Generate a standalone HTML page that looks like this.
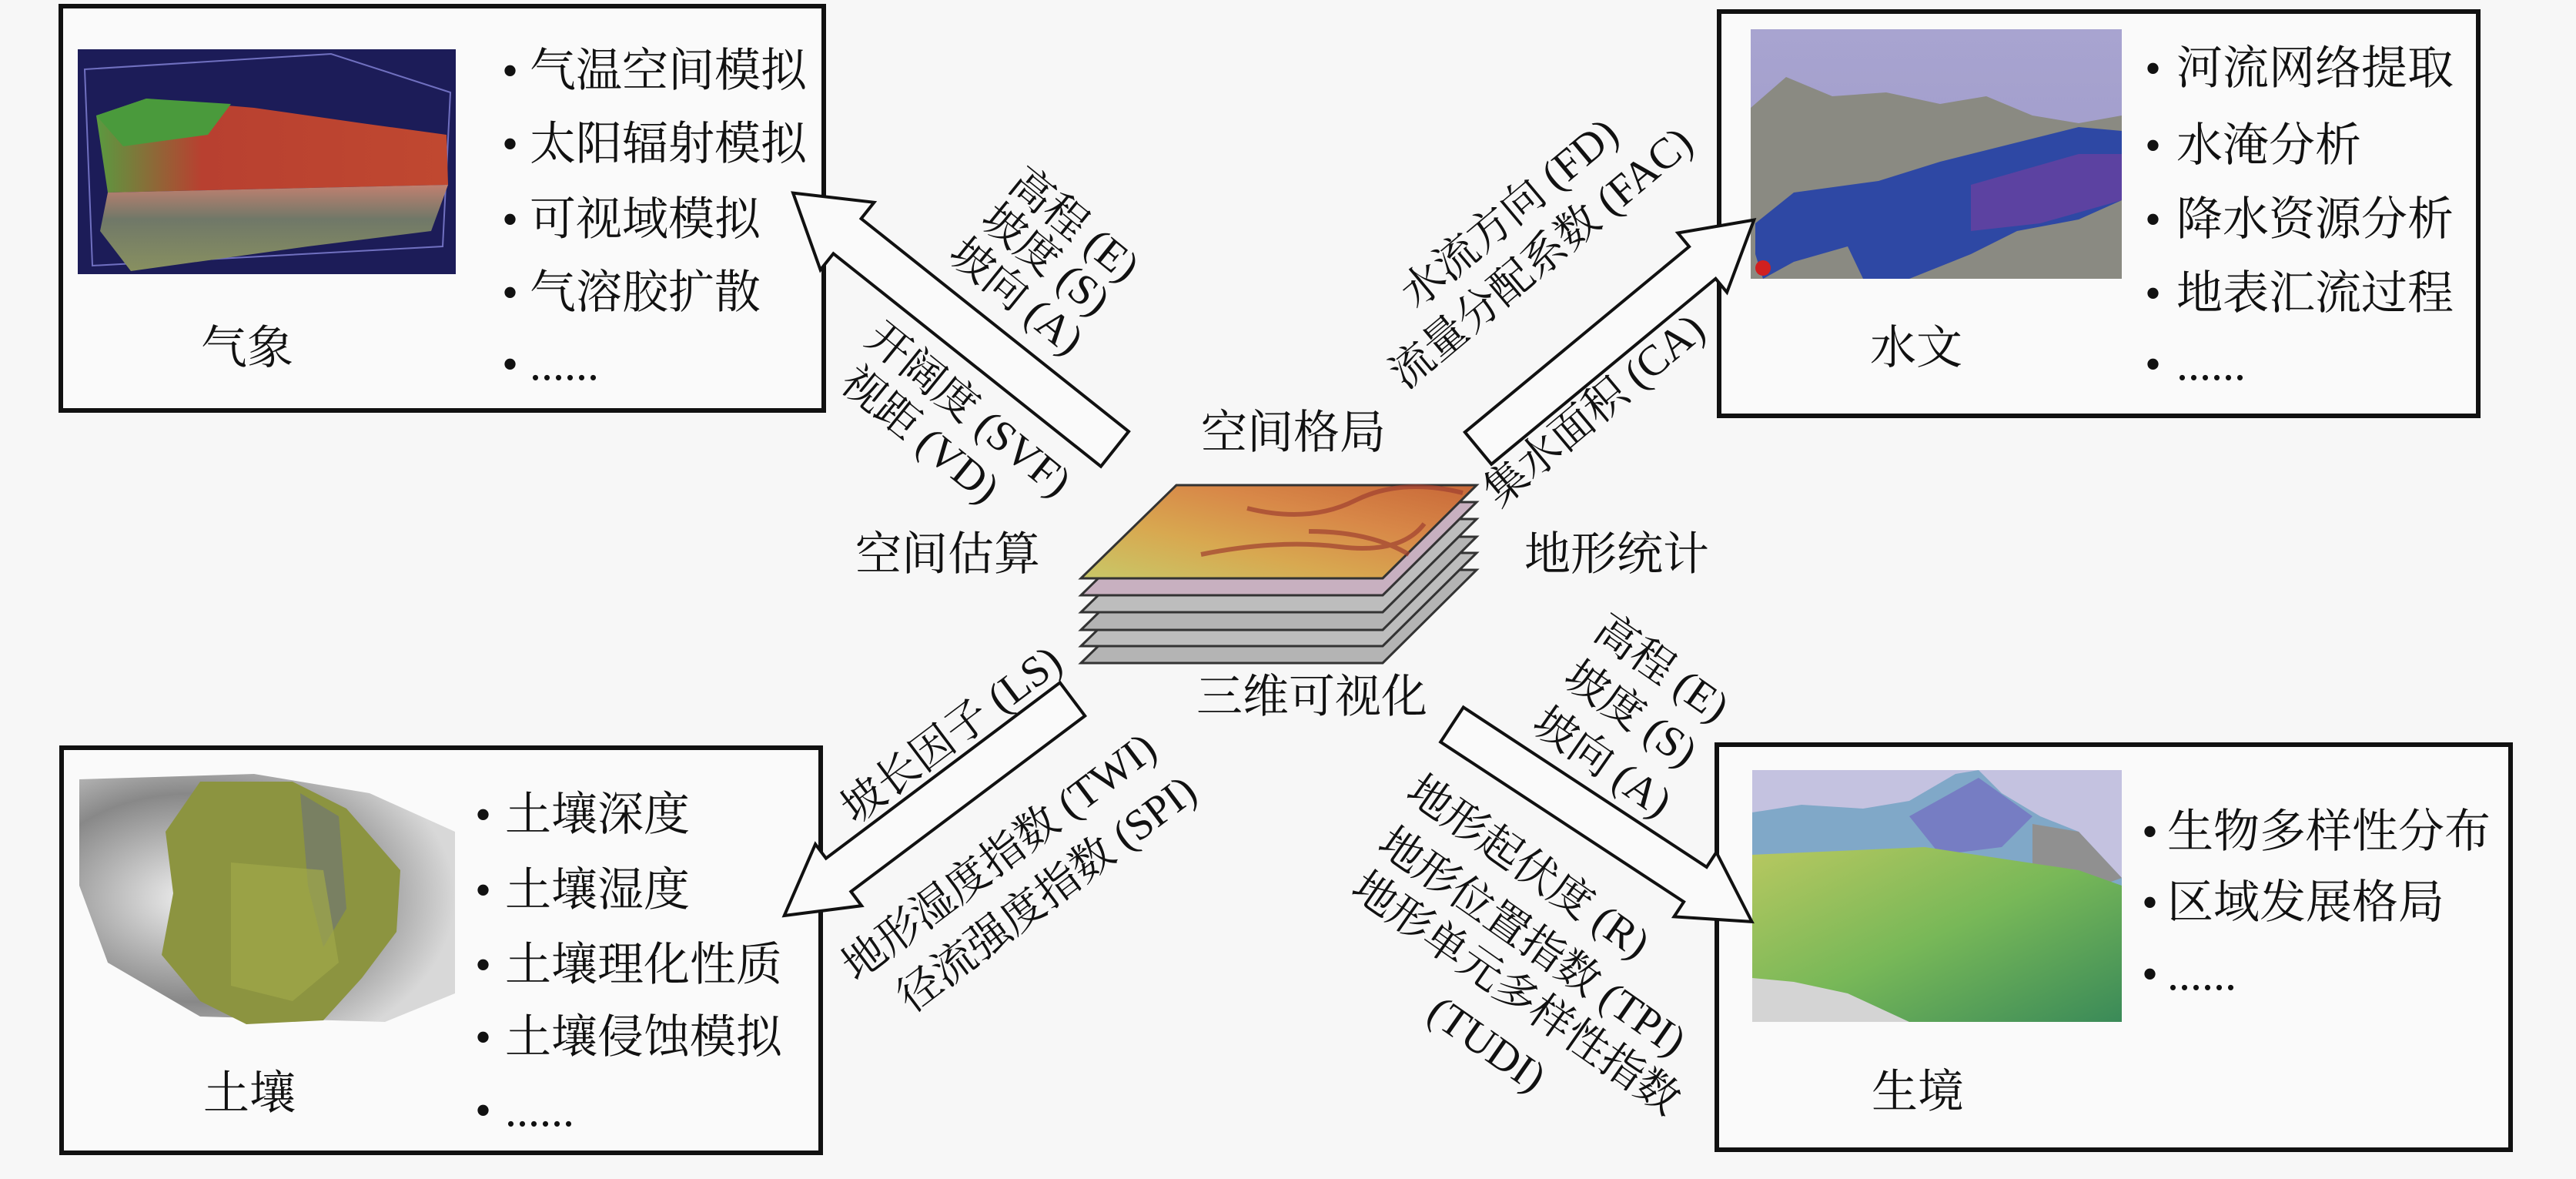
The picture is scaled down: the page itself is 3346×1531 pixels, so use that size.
<!DOCTYPE html>
<html><head><meta charset="utf-8"><style>
html,body{margin:0;padding:0;background:#f7f7f7;}
svg{display:block;}
text{font-family:"Liberation Serif","Noto Serif CJK SC",serif;fill:#111;}
</style></head><body>
<svg width="3346" height="1531" viewBox="0 0 3346 1531" xmlns="http://www.w3.org/2000/svg">
<defs>
<linearGradient id="dem" x1="0" y1="1" x2="1" y2="0">
<stop offset="0" stop-color="#c8c868"/><stop offset="0.35" stop-color="#d8a850"/><stop offset="0.65" stop-color="#d88848"/><stop offset="1" stop-color="#c86838"/></linearGradient>
<linearGradient id="tlt" x1="0" y1="0" x2="1" y2="0"><stop offset="0" stop-color="#5a9a40"/><stop offset="0.3" stop-color="#b84030"/><stop offset="1" stop-color="#c04830"/></linearGradient>
<linearGradient id="tlb" x1="0" y1="0" x2="0" y2="1"><stop offset="0" stop-color="#c08070"/><stop offset="0.4" stop-color="#707868"/><stop offset="1" stop-color="#889060"/></linearGradient>
<linearGradient id="sky" x1="0" y1="0" x2="0" y2="1"><stop offset="0" stop-color="#a8a4d0"/><stop offset="1" stop-color="#9c98c8"/></linearGradient>
<radialGradient id="blg" cx="0.3" cy="0.5" r="0.7"><stop offset="0" stop-color="#f0f0f0"/><stop offset="0.6" stop-color="#888"/><stop offset="1" stop-color="#d8d8d8"/></radialGradient>
<linearGradient id="brg" x1="0" y1="0" x2="1" y2="1"><stop offset="0" stop-color="#b8c860"/><stop offset="0.5" stop-color="#78b858"/><stop offset="1" stop-color="#3a8a58"/></linearGradient>
</defs>

<rect x="79" y="8" width="991" height="525" fill="#fafafa" stroke="#111" stroke-width="6"/>
<rect x="2233" y="15" width="986" height="525" fill="#fafafa" stroke="#111" stroke-width="6"/>
<rect x="80" y="971" width="986" height="526" fill="#fafafa" stroke="#111" stroke-width="6"/>
<rect x="2230" y="967" width="1031" height="526" fill="#fafafa" stroke="#111" stroke-width="6"/>

<rect x="101" y="64" width="491" height="292" fill="#1c1c58"/>
<polygon points="110,90 430,70 585,120 575,320 120,345" fill="none" stroke="#7070c0" stroke-width="2"/>
<polygon points="125,150 190,128 330,140 470,160 580,175 582,240 140,250" fill="url(#tlt)"/>
<polygon points="125,150 190,128 300,135 270,175 160,190" fill="#4a9a3c"/>
<polygon points="140,250 582,240 560,300 400,320 170,352 130,300" fill="url(#tlb)"/>

<rect x="2274" y="38" width="482" height="324" fill="url(#sky)"/>
<polygon points="2274,140 2320,100 2380,125 2450,120 2520,135 2580,125 2640,150 2700,160 2756,150 2756,362 2274,362" fill="#8a8a82"/>
<polygon points="2280,290 2330,250 2440,235 2520,210 2600,190 2700,165 2756,170 2756,260 2700,285 2620,300 2560,330 2480,362 2420,362 2400,320 2330,340 2290,362 2280,330" fill="#2e48a4"/>
<polygon points="2560,240 2700,200 2756,200 2756,260 2650,290 2560,300" fill="#7040a0" opacity="0.7"/>
<circle cx="2290" cy="348" r="10" fill="#d02020"/>

<polygon points="103,1012 330,1005 480,1030 591,1080 591,1290 500,1327 260,1320 140,1250 103,1150" fill="url(#blg)"/>
<polygon points="260,1015 380,1015 450,1050 520,1130 515,1210 470,1270 420,1325 320,1330 260,1300 210,1240 225,1160 215,1080" fill="#8c9440"/>
<polygon points="390,1030 440,1060 450,1180 420,1230 400,1150" fill="#707870" opacity="0.7"/>
<polygon points="300,1120 420,1130 440,1250 380,1300 300,1280" fill="#a0a848" opacity="0.7"/>

<rect x="2276" y="1000" width="480" height="327" fill="#c4c2e0"/>
<polygon points="2276,1055 2340,1045 2420,1050 2480,1040 2540,1005 2570,1000 2600,1030 2650,1060 2700,1080 2756,1140 2756,1327 2276,1327" fill="#80a8c8"/>
<polygon points="2480,1060 2570,1010 2640,1060 2600,1100 2520,1110" fill="#7060c0" opacity="0.6"/>
<polygon points="2640,1070 2700,1080 2756,1140 2700,1160 2640,1140" fill="#909090"/>
<polygon points="2276,1110 2500,1100 2700,1130 2756,1150 2756,1327 2276,1327" fill="url(#brg)"/>
<polygon points="2276,1270 2330,1275 2400,1290 2480,1327 2276,1327" fill="#d4d4d4"/>

<g stroke="#333" stroke-width="3">
<polygon points="1528,740 1918,740 1796,861 1404,861" fill="#b4b4b4"/>
<polygon points="1528,718 1918,718 1796,839 1404,839" fill="#bdbdbd"/>
<polygon points="1528,697 1918,697 1796,818 1404,818" fill="#b4b4b4"/>
<polygon points="1528,674 1918,674 1796,795 1404,795" fill="#bdbdbd"/>
<polygon points="1528,652 1918,652 1796,773 1404,773" fill="#c8b0c0"/>
<polygon points="1528,630 1918,630 1796,751 1404,751" fill="url(#dem)"/>
</g>
<g fill="none" stroke="#a04030" stroke-width="6" opacity="0.7">
<path d="M1620,660 Q1700,680 1760,650 T1900,640"/>
<path d="M1560,720 Q1660,700 1740,710 T1850,680"/>
<path d="M1700,690 Q1780,690 1830,720"/>
</g>

<g fill="#fafafa" stroke="#111" stroke-width="4" stroke-linejoin="miter">
<polygon transform="translate(1448,583) rotate(218.5)" points="0,-29 444,-29 444,-56 534,0 444,56 444,29 0,29"/>
<polygon transform="translate(1920,582) rotate(-39.6)" points="0,-27 378,-27 378,-50 465,0 378,50 378,27 0,27"/>
<polygon transform="translate(1393,908) rotate(143.1)" points="0,-27 380,-27 380,-50 468,0 380,50 380,27 0,27"/>
<polygon transform="translate(1886,941) rotate(33.3)" points="0,-27 378,-27 378,-50 466,0 378,50 378,27 0,27"/>
</g>

<g font-size="60">
<text y="112"><tspan x="652">•</tspan><tspan x="688">气温空间模拟</tspan></text>
<text y="207"><tspan x="652">•</tspan><tspan x="688">太阳辐射模拟</tspan></text>
<text y="305"><tspan x="652">•</tspan><tspan x="688">可视域模拟</tspan></text>
<text y="400"><tspan x="652">•</tspan><tspan x="688">气溶胶扩散</tspan></text>
<text y="493"><tspan x="652">•</tspan><tspan x="688">......</tspan></text>
<text x="261" y="472">气象</text>

<text y="109"><tspan x="2786">•</tspan><tspan x="2827">河流网络提取</tspan></text>
<text y="209"><tspan x="2786">•</tspan><tspan x="2827">水淹分析</tspan></text>
<text y="305"><tspan x="2786">•</tspan><tspan x="2827">降水资源分析</tspan></text>
<text y="401"><tspan x="2786">•</tspan><tspan x="2827">地表汇流过程</tspan></text>
<text y="493"><tspan x="2786">•</tspan><tspan x="2827">......</tspan></text>
<text x="2429" y="472">水文</text>

<text y="1078"><tspan x="617">•</tspan><tspan x="656">土壤深度</tspan></text>
<text y="1176"><tspan x="617">•</tspan><tspan x="656">土壤湿度</tspan></text>
<text y="1273"><tspan x="617">•</tspan><tspan x="656">土壤理化性质</tspan></text>
<text y="1367"><tspan x="617">•</tspan><tspan x="656">土壤侵蚀模拟</tspan></text>
<text y="1462"><tspan x="617">•</tspan><tspan x="656">......</tspan></text>
<text x="264" y="1440">土壤</text>

<text y="1100"><tspan x="2782">•</tspan><tspan x="2815">生物多样性分布</tspan></text>
<text y="1192"><tspan x="2782">•</tspan><tspan x="2815">区域发展格局</tspan></text>
<text y="1285"><tspan x="2782">•</tspan><tspan x="2815">......</tspan></text>
<text x="2431" y="1438">生境</text>

<text x="1560" y="582">空间格局</text>
<text x="1111" y="740">空间估算</text>
<text x="1980" y="740">地形统计</text>
<text x="1554" y="925">三维可视化</text>
</g>

<g font-size="56" text-anchor="middle" dominant-baseline="central">
<text transform="translate(1395,292) rotate(39)">高程 (E)</text>
<text transform="translate(1358,337) rotate(39)">坡度 (S)</text>
<text transform="translate(1320,385) rotate(39)">坡向 (A)</text>
<text transform="translate(1258,532) rotate(39)">开阔度 (SVF)</text>
<text transform="translate(1195,565) rotate(39)">视距 (VD)</text>

<text transform="translate(1961,277) rotate(-40)">水流方向 (FD)</text>
<text transform="translate(2002,335) rotate(-40)">流量分配系数 (FAC)</text>
<text transform="translate(2071,533) rotate(-40)">集水面积 (CA)</text>

<text transform="translate(1236,954) rotate(-37)">坡长因子 (LS)</text>
<text transform="translate(1298,1113) rotate(-37)">地形湿度指数 (TWI)</text>
<text transform="translate(1360,1161) rotate(-37)">径流强度指数 (SPI)</text>

<text transform="translate(2158,868) rotate(35)">高程 (E)</text>
<text transform="translate(2118,927) rotate(35)">坡度 (S)</text>
<text transform="translate(2081,990) rotate(35)">坡向 (A)</text>
<text transform="translate(1985,1126) rotate(35)">地形起伏度 (R)</text>
<text transform="translate(1990,1223) rotate(35)">地形位置指数 (TPI)</text>
<text transform="translate(1969,1290) rotate(35)">地形单元多样性指数</text>
<text transform="translate(1931,1356) rotate(35)">(TUDI)</text>
</g>
</svg>
</body></html>
